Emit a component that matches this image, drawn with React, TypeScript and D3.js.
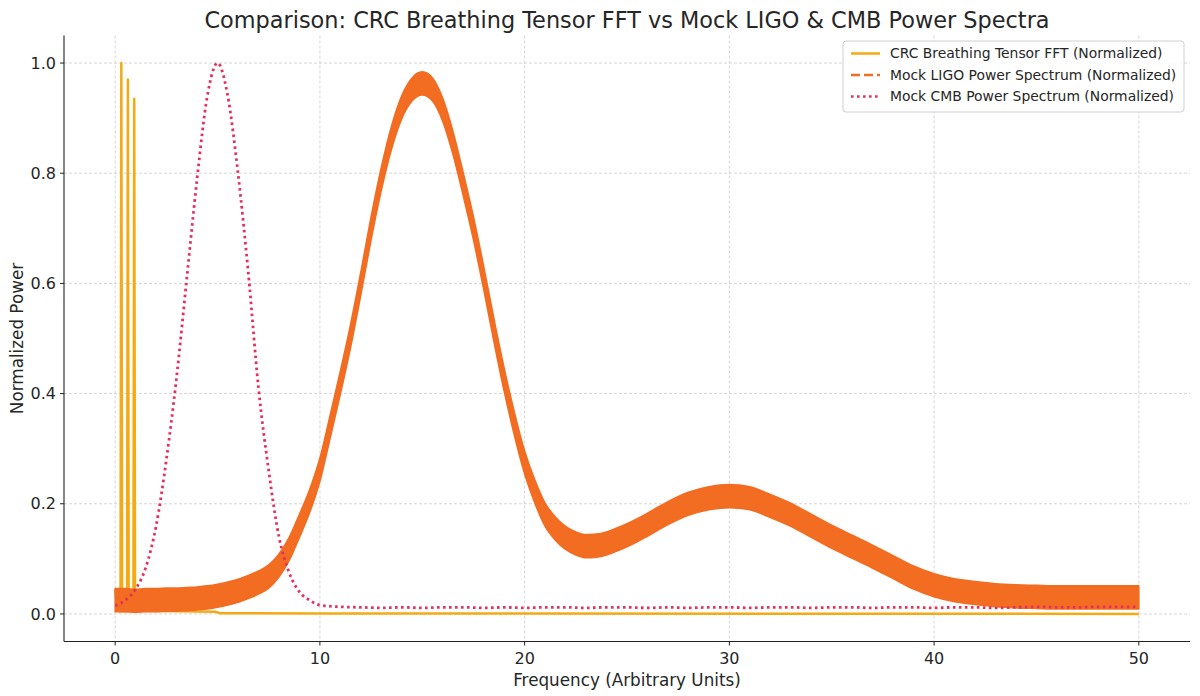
import { useEffect, useRef } from 'react';
import * as d3 from 'd3';

// CRC breathing tensor FFT (normalized) — three narrow spikes near zero, flat afterwards
const crcFreq = [0, 0.1, 0.26, 0.3, 0.34, 0.58, 0.62, 0.66, 0.89, 0.93, 0.97, 1.1, 3, 4.9, 5.1, 10, 50];
const crcPower = [0.045, 0.006, 0.005, 1.0, 0.005, 0.005, 0.97, 0.005, 0.005, 0.935, 0.006, 0.006, 0.005, 0.004, 0.0015, 0.001, 0.0];

// Mock LIGO power spectrum — middle of the noisy band
const ligoFreq = [
  0, 0.5, 1, 1.5, 2, 2.5, 3, 3.5, 4, 4.5, 5, 5.5, 6, 6.5, 7, 7.5, 8, 8.5, 9, 9.5,
  10, 10.5, 11, 11.5, 12, 12.5, 13, 13.5, 14, 14.5, 15, 15.5, 16, 16.5, 17, 17.5, 18, 18.5, 19, 19.5,
  20, 20.5, 21, 21.5, 22, 22.5, 23, 23.5, 24, 24.5, 25, 25.5, 26, 27, 28, 29,
  30, 31, 32, 33, 34, 35, 36, 37, 38, 39, 40, 41, 42, 43, 44, 45, 46, 47, 48, 49, 50,
];
const ligoPower = [
  0.025, 0.025, 0.024, 0.025, 0.025, 0.026, 0.026, 0.027, 0.028, 0.03, 0.033, 0.037, 0.042, 0.049, 0.057, 0.068, 0.088, 0.118, 0.16, 0.205,
  0.262, 0.34, 0.42, 0.505, 0.6, 0.7, 0.79, 0.865, 0.92, 0.952, 0.963, 0.952, 0.915, 0.855, 0.78, 0.7, 0.61, 0.515, 0.425, 0.345,
  0.275, 0.222, 0.18, 0.155, 0.138, 0.128, 0.123, 0.124, 0.128, 0.135, 0.143, 0.152, 0.162, 0.183, 0.2, 0.21,
  0.214, 0.21, 0.196, 0.18, 0.16, 0.14, 0.122, 0.104, 0.085, 0.066, 0.052, 0.043, 0.038, 0.034, 0.032, 0.031, 0.03, 0.03, 0.03, 0.03, 0.03,
];
// half height of the LIGO noise band
const ligoSpread = 0.021;

// Mock CMB power spectrum
const cmbFreq = [
  0, 0.5, 1, 1.5, 2, 2.5, 3, 3.5, 4, 4.5, 5, 5.5, 6, 6.5, 7, 7.5, 8, 8.5, 9, 9.5,
  10, 11, 12, 13, 14, 15, 16, 17, 18, 19, 20, 21, 22, 23, 24, 25, 26, 27, 28, 29,
  30, 31, 32, 33, 34, 35, 36, 37, 38, 39, 40, 41, 42, 43, 44, 45, 46, 47, 48, 49, 50,
];
const cmbPower = [
  0.015, 0.025, 0.045, 0.085, 0.16, 0.28, 0.43, 0.61, 0.79, 0.94, 1.0, 0.94, 0.8, 0.62, 0.41, 0.26, 0.14, 0.075, 0.04, 0.025,
  0.016, 0.013, 0.012, 0.011, 0.012, 0.011, 0.012, 0.012, 0.011, 0.012, 0.011, 0.012, 0.012, 0.011, 0.012, 0.012, 0.011, 0.012, 0.011, 0.012,
  0.012, 0.011, 0.012, 0.012, 0.011, 0.012, 0.012, 0.011, 0.012, 0.012, 0.011, 0.012, 0.012, 0.011, 0.012, 0.013, 0.012, 0.012, 0.013, 0.013, 0.013,
];

const xTicks = [0, 10, 20, 30, 40, 50];
const yTicks = [0, 0.2, 0.4, 0.6, 0.8, 1.0];

const seriesNames = [
  'CRC Breathing Tensor FFT (Normalized)',
  'Mock LIGO Power Spectrum (Normalized)',
  'Mock CMB Power Spectrum (Normalized)',
];

const CRC_COLOR = '#f5aa14';
const LIGO_COLOR = '#f26c21';
const CMB_COLOR = '#e6305c';
const FONT = '"DejaVu Sans", sans-serif';

export default function App() {
  const svgRef = useRef<SVGSVGElement>(null);

  useEffect(() => {
    const svg = svgRef.current;
    if (!svg) return;

    const width = 1200;
    const height = 696;
    const left = 64;
    const right = 1190;
    const top = 35.5;
    const bottom = 641.5;

    const sel = d3.select(svg);
    sel.selectAll('*').remove();
    sel.attr('viewBox', `0 0 ${width} ${height}`);

    const x = d3.scaleLinear().domain([-2.5, 52.5]).range([left, right]);
    const y = d3.scaleLinear().domain([-0.05, 1.05]).range([bottom, top]);

    sel.append('rect').attr('width', width).attr('height', height).attr('fill', '#fff');

    // Grid
    const grid = sel.append('g');
    grid.selectAll('.gx')
      .data(xTicks)
      .join('line')
      .attr('x1', (d) => x(d))
      .attr('x2', (d) => x(d))
      .attr('y1', top)
      .attr('y2', bottom)
      .attr('stroke', '#cbcbcb')
      .attr('stroke-width', 0.8)
      .attr('stroke-dasharray', '3,2');
    grid.selectAll('.gy')
      .data(yTicks)
      .join('line')
      .attr('x1', left)
      .attr('x2', right)
      .attr('y1', (d) => y(d))
      .attr('y2', (d) => y(d))
      .attr('stroke', '#cbcbcb')
      .attr('stroke-width', 0.8)
      .attr('stroke-dasharray', '3,2');

    const plot = sel.append('g');

    // CRC line
    const crc = crcFreq.map((f, i) => [f, crcPower[i]] as [number, number]);
    plot.append('path')
      .datum(crc)
      .attr('d', d3.line<[number, number]>().x((d) => x(d[0])).y((d) => y(d[1])))
      .attr('fill', 'none')
      .attr('stroke', CRC_COLOR)
      .attr('stroke-width', 2.5)
      .attr('stroke-linejoin', 'round');

    // LIGO noisy band
    const ligo = ligoFreq.map((f, i) => [f, ligoPower[i]] as [number, number]);
    plot.append('path')
      .datum(ligo)
      .attr(
        'd',
        d3.area<[number, number]>()
          .x((d) => x(d[0]))
          .y0((d) => y(d[1] - ligoSpread))
          .y1((d) => y(d[1] + ligoSpread))
          .curve(d3.curveMonotoneX)
      )
      .attr('fill', LIGO_COLOR)
      .attr('stroke', LIGO_COLOR)
      .attr('stroke-width', 1.5)
      .attr('stroke-linejoin', 'round');

    // CMB dotted line
    const cmb = cmbFreq.map((f, i) => [f, cmbPower[i]] as [number, number]);
    plot.append('path')
      .datum(cmb)
      .attr('d', d3.line<[number, number]>().x((d) => x(d[0])).y((d) => y(d[1])).curve(d3.curveMonotoneX))
      .attr('fill', 'none')
      .attr('stroke', CMB_COLOR)
      .attr('stroke-width', 2.8)
      .attr('stroke-dasharray', '2.6,3.4');

    // Spines
    sel.append('line')
      .attr('x1', left).attr('x2', left).attr('y1', top).attr('y2', bottom)
      .attr('stroke', '#222').attr('stroke-width', 1.1);
    sel.append('line')
      .attr('x1', left).attr('x2', right).attr('y1', bottom).attr('y2', bottom)
      .attr('stroke', '#222').attr('stroke-width', 1.1);

    // X ticks
    const xt = sel.append('g').selectAll('g').data(xTicks).join('g');
    xt.append('line')
      .attr('x1', (d) => x(d)).attr('x2', (d) => x(d))
      .attr('y1', bottom).attr('y2', bottom + 4)
      .attr('stroke', '#222');
    xt.append('text')
      .attr('x', (d) => x(d))
      .attr('y', bottom + 22)
      .attr('text-anchor', 'middle')
      .attr('font-family', FONT)
      .attr('font-size', '16px')
      .attr('fill', '#262626')
      .text((d) => String(d));

    // Y ticks
    const yt = sel.append('g').selectAll('g').data(yTicks).join('g');
    yt.append('line')
      .attr('x1', left - 4).attr('x2', left)
      .attr('y1', (d) => y(d)).attr('y2', (d) => y(d))
      .attr('stroke', '#222');
    yt.append('text')
      .attr('x', left - 8)
      .attr('y', (d) => y(d))
      .attr('dy', '0.35em')
      .attr('text-anchor', 'end')
      .attr('font-family', FONT)
      .attr('font-size', '16px')
      .attr('fill', '#262626')
      .text((d) => d.toFixed(1));

    // Labels
    sel.append('text')
      .attr('x', (left + right) / 2)
      .attr('y', 28)
      .attr('text-anchor', 'middle')
      .attr('font-family', FONT)
      .attr('font-size', '22.4px')
      .attr('fill', '#262626')
      .text('Comparison: CRC Breathing Tensor FFT vs Mock LIGO & CMB Power Spectra');
    sel.append('text')
      .attr('x', (left + right) / 2)
      .attr('y', 686)
      .attr('text-anchor', 'middle')
      .attr('font-family', FONT)
      .attr('font-size', '16.8px')
      .attr('fill', '#262626')
      .text('Frequency (Arbitrary Units)');
    sel.append('text')
      .attr('transform', `translate(23,${(top + bottom) / 2}) rotate(-90)`)
      .attr('text-anchor', 'middle')
      .attr('font-family', FONT)
      .attr('font-size', '16.8px')
      .attr('fill', '#262626')
      .text('Normalized Power');

    // Legend
    const lg = sel.append('g').attr('transform', 'translate(843,41)');
    lg.append('rect')
      .attr('width', 341)
      .attr('height', 71)
      .attr('rx', 3)
      .attr('fill', '#fff')
      .attr('fill-opacity', 0.85)
      .attr('stroke', '#d0d0d0');
    const styles = [
      { color: CRC_COLOR, dash: null },
      { color: LIGO_COLOR, dash: '9,4' },
      { color: CMB_COLOR, dash: '2.6,3.4' },
    ];
    seriesNames.forEach((name, i) => {
      const cy = 12.5 + i * 21.5;
      lg.append('line')
        .attr('x1', 8).attr('x2', 37)
        .attr('y1', cy).attr('y2', cy)
        .attr('stroke', styles[i].color)
        .attr('stroke-width', 2.5)
        .attr('stroke-dasharray', styles[i].dash);
      lg.append('text')
        .attr('x', 47)
        .attr('y', cy)
        .attr('dy', '0.35em')
        .attr('font-family', FONT)
        .attr('font-size', '13.9px')
        .attr('fill', '#262626')
        .text(name);
    });
  }, []);

  return (
    <svg
      ref={svgRef}
      width={1200}
      height={696}
      style={{ position: 'absolute', left: 0, top: 0, display: 'block' }}
    />
  );
}
